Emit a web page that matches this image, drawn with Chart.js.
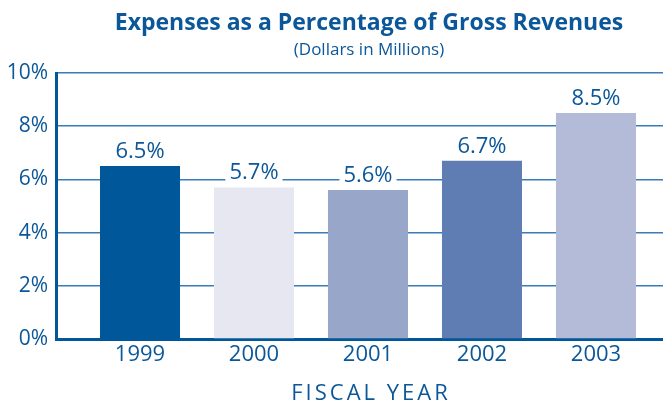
<!DOCTYPE html>
<html>
<head>
<meta charset="utf-8">
<script src="https://cdn.jsdelivr.net/npm/chart.js@4/dist/chart.umd.min.js"></script>
<style>
    html, body { margin: 0; padding: 0; background: #ffffff; }
    canvas { display: block; }
</style>
</head>
<body>
<canvas id="expChart" width="663" height="402"></canvas>
<script>
'use strict';

// Data
const years = ['1999', '2000', '2001', '2002', '2003'];
const expensePct = [6.5, 5.7, 5.6, 6.7, 8.5];
const barColors = ['#00579a', '#e6e7f1', '#98a6c9', '#5f7db3', '#b3bbd8'];
const yTicks = [0, 2, 4, 6, 8, 10];

const titleText = 'Expenses as a Percentage of Gross Revenues';
const subtitleText = '(Dollars in Millions)';
const xTitleText = 'FISCAL YEAR';

const BLUE = '#0b5799';
const FONT = "'Open Sans', 'Noto Sans', sans-serif";

// Nadpisy a popisky nad sloupci
const textPlugin = {
    id: 'expTexts',
    afterDatasetsDraw: (chart) => {
        const ctx = chart.ctx;
        const meta = chart.getDatasetMeta(0);
        ctx.save();
        ctx.font = `22px ${FONT}`;
        ctx.textAlign = 'center';
        ctx.textBaseline = 'alphabetic';
        meta.data.forEach((bar, i) => {
            const txt = expensePct[i].toFixed(1) + '%';
            const w = ctx.measureText(txt).width;
            ctx.fillStyle = '#ffffff';
            ctx.fillRect(bar.x - w / 2 - 4, bar.y - 29, w + 8, 25);
            ctx.fillStyle = BLUE;
            ctx.fillText(txt, bar.x, bar.y - 8);
        });
        ctx.restore();
    },
    afterDraw: (chart) => {
        const ctx = chart.ctx;
        ctx.save();
        ctx.fillStyle = BLUE;
        ctx.textAlign = 'center';
        ctx.textBaseline = 'alphabetic';
        ctx.font = `bold 23px ${FONT}`;
        ctx.fillText(titleText, 369, 30);
        ctx.font = `17px ${FONT}`;
        ctx.fillText(subtitleText, 369, 55);
        ctx.font = `22px ${FONT}`;
        ctx.letterSpacing = '3px';
        ctx.fillText(xTitleText, 371, 400);
        ctx.restore();
    }
};

const ctx = document.getElementById('expChart').getContext('2d');

new Chart(ctx, {
    type: 'bar',
    data: {
        datasets: [{
            data: expensePct.map((v, i) => ({ x: i, y: v })),
            backgroundColor: barColors,
            borderWidth: 0,
            barPercentage: 0.702,
            categoryPercentage: 1
        }]
    },
    options: {
        responsive: false,
        animation: false,
        layout: {
            padding: { top: 73, left: 0, right: 0, bottom: 0 }
        },
        scales: {
            x: {
                type: 'linear',
                offset: false,
                min: -0.737,
                max: 4.588,
                afterBuildTicks: (scale) => {
                    scale.ticks = years.map((y, i) => ({ value: i }));
                },
                afterFit: (scale) => { scale.height = 63; },
                ticks: {
                    color: BLUE,
                    font: { family: FONT, size: 22 },
                    padding: 3,
                    maxRotation: 0,
                    autoSkip: false,
                    callback: (value) => years[value] ?? ''
                },
                grid: { display: false, drawTicks: false, offset: false },
                border: { display: true, color: '#00579a', width: 3 }
            },
            y: {
                min: 0,
                max: 10,
                afterBuildTicks: (scale) => {
                    scale.ticks = yTicks.map(v => ({ value: v }));
                },
                afterFit: (scale) => { scale.width = 56; },
                ticks: {
                    color: BLUE,
                    font: { family: FONT, size: 21 },
                    padding: 8,
                    callback: (value) => value + '%'
                },
                grid: { color: '#3a7bb9', lineWidth: 1.5, drawTicks: false },
                border: { display: true, color: '#00579a', width: 3 }
            }
        },
        plugins: {
            legend: { display: false },
            tooltip: { enabled: false }
        }
    },
    plugins: [textPlugin]
});
</script>
</body>
</html>
